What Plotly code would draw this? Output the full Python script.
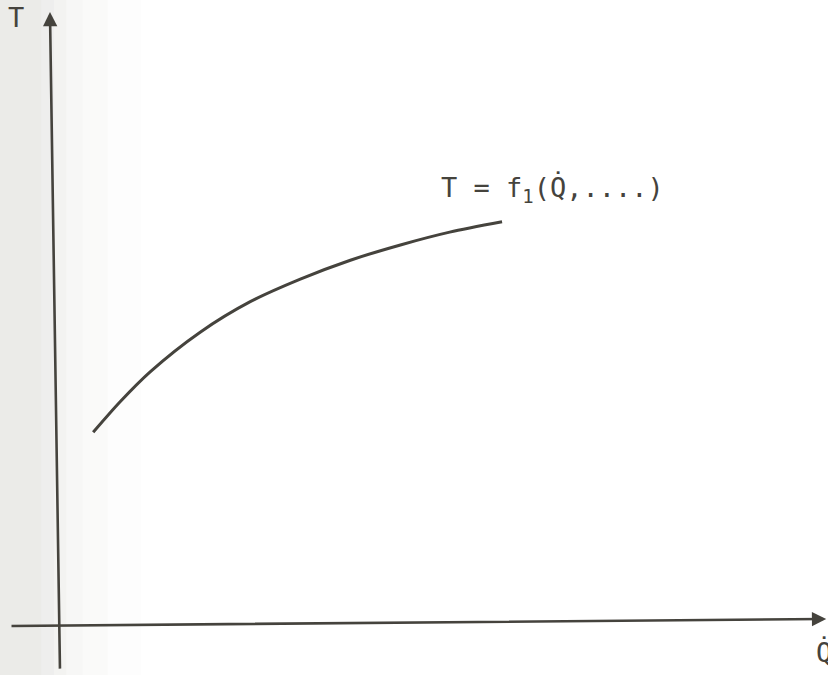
import plotly.graph_objects as go

# Sketch of T as a rising, flattening function of heat flow Q̇ (arbitrary units)
q_dot = [0.47, 0.82, 1.21, 1.86, 2.51, 3.16, 3.81, 4.46, 5.10, 5.78]
temperature = [3.16, 3.66, 4.15, 4.80, 5.30, 5.67, 5.98, 6.23, 6.44, 6.61]

curve_label = "T = f<sub>1</sub>(Q\u0307,....)"
x_axis_label = "Q\u0307"
y_axis_label = "T"

INK = "#45433d"
MONO = "DejaVu Sans Mono, Liberation Mono, monospace"

fig = go.Figure()

fig.add_trace(go.Scatter(
    x=q_dot, y=temperature,
    mode="lines",
    line=dict(color=INK, width=3, shape="spline", smoothing=0.8),
    hoverinfo="skip",
    showlegend=False,
))

# Hand-drawn axes with arrowheads (slightly out of square, as drawn)
fig.add_annotation(
    x=-0.091, y=10.05, ax=0.039, ay=-0.74,
    xref="x", yref="y", axref="x", ayref="y",
    showarrow=True, arrowhead=2, arrowsize=1.1, arrowwidth=2.6,
    arrowcolor=INK, text="",
)
fig.add_annotation(
    x=9.99, y=0.098, ax=-0.61, ay=-0.016,
    xref="x", yref="y", axref="x", ayref="y",
    showarrow=True, arrowhead=2, arrowsize=1.1, arrowwidth=2.6,
    arrowcolor=INK, text="",
)

# Axis names
fig.add_annotation(
    x=0.019, y=1.0, xref="paper", yref="paper",
    text=y_axis_label, showarrow=False,
    xanchor="center", yanchor="top",
    font=dict(family=MONO, size=27, color=INK),
)
fig.add_annotation(
    x=0.983, y=0.007, xref="paper", yref="paper",
    text=x_axis_label, showarrow=False,
    xanchor="left", yanchor="bottom",
    font=dict(family=MONO, size=27, color=INK),
)

# Curve label
fig.add_annotation(
    x=4.96, y=7.15, xref="x", yref="y",
    text=curve_label, showarrow=False,
    xanchor="left", yanchor="middle",
    font=dict(family=MONO, size=27, color=INK),
)

# Faded strip along the left edge of the page (soft gradient)
strip_steps = [(0.00, 0.05, 0.11), (0.05, 0.065, 0.09), (0.065, 0.08, 0.065),
               (0.08, 0.10, 0.045), (0.10, 0.13, 0.028), (0.13, 0.17, 0.012)]
for x0, x1, alpha in strip_steps:
    fig.add_shape(type="rect", xref="paper", yref="paper",
                  x0=x0, x1=x1, y0=0, y1=1, layer="below",
                  line=dict(width=0),
                  fillcolor=f"rgba(70,70,50,{alpha})")

fig.update_xaxes(range=[-0.740, 10.013], visible=False, fixedrange=True)
fig.update_yaxes(range=[-0.820, 10.246], visible=False, fixedrange=True)

fig.update_layout(
    width=828, height=675,
    margin=dict(l=0, r=0, t=0, b=0),
    paper_bgcolor="white",
    plot_bgcolor="rgba(0,0,0,0)",
    showlegend=False,
)

fig.write_html("out.html")
